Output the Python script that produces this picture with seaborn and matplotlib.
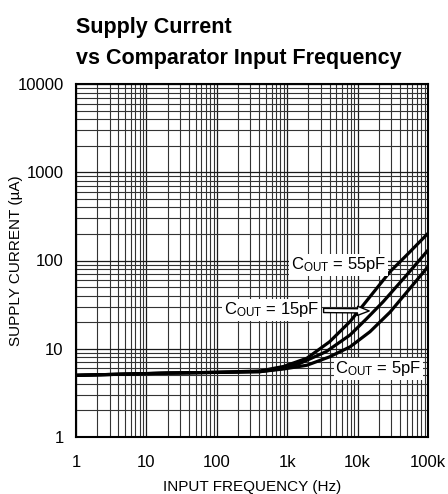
import numpy as np
import pandas as pd
import matplotlib
matplotlib.use("Agg")
import matplotlib.pyplot as plt
import seaborn as sns

# values
freq_55 = [1, 20, 100, 410, 890, 1900, 4000, 7800, 15000, 28900, 49800, 100000]
curr_55 = [5.0, 5.3, 5.4, 5.6, 6.3, 7.8, 12.0, 20.3, 38.9, 74.7, 115, 203]

freq_15 = [1, 20, 100, 410, 890, 1500, 3600, 7800, 13500, 23000, 49800, 100000]
curr_15 = [5.0, 5.3, 5.4, 5.5, 6.0, 6.8, 9.3, 14.3, 22.0, 34.0, 68.5, 131]

freq_5 = [1, 20, 100, 410, 890, 1900, 4000, 7800, 15000, 28900, 55000, 100000]
curr_5 = [5.0, 5.3, 5.4, 5.5, 5.9, 6.5, 8.1, 10.5, 15.6, 26.0, 48.0, 85]

x_ticks = [1, 10, 100, 1000, 10000, 100000]
x_ticklabels = ["1", "10", "100", "1k", "10k", "100k"]
y_ticks = [1, 10, 100, 1000, 10000]
y_ticklabels = ["1", "10", "100", "1000", "10000"]

sns.set_style("white")
plt.rcParams['font.family'] = ['Liberation Sans', 'DejaVu Sans']
plt.rcParams['mathtext.default'] = 'regular'
plt.rcParams['text.color'] = 'black'
plt.rcParams['axes.labelcolor'] = 'black'

df = pd.concat([
    pd.DataFrame({'freq': freq_55, 'current': curr_55, 'cout': '55pF'}),
    pd.DataFrame({'freq': freq_15, 'current': curr_15, 'cout': '15pF'}),
    pd.DataFrame({'freq': freq_5, 'current': curr_5, 'cout': '5pF'}),
])

fig = plt.figure(figsize=(4.48, 4.94), dpi=100)
ax = fig.add_axes([76 / 448, 57 / 494, 352 / 448, 353 / 494])

ax.set_xscale('log')
ax.set_yscale('log')
ax.set_xlim(1, 100000)
ax.set_ylim(1, 10000)

# grid
ax.grid(True, which='major', color='#1a1a1a', linewidth=0.9)
ax.grid(True, which='minor', color='#333333', linewidth=0.8)
ax.set_axisbelow(True)

sns.lineplot(data=df, x='freq', y='current', hue='cout', units='cout',
             estimator=None, palette=['black'] * 3, linewidth=2.3,
             legend=False, ax=ax)

ax.set_xticks(x_ticks)
ax.set_xticklabels(x_ticklabels)
ax.set_yticks(y_ticks)
ax.set_yticklabels(y_ticklabels)
ax.tick_params(which='both', length=0, labelsize=12, colors='black')
ax.tick_params(axis='x', pad=13)
ax.tick_params(axis='y', pad=9)

for s in ax.spines.values():
    s.set_color('black')
    s.set_linewidth(1.5)

ax.set_xlabel('INPUT FREQUENCY (Hz)', fontsize=11)
ax.set_ylabel('SUPPLY CURRENT (µA)', fontsize=11)
ax.xaxis.set_label_coords(0.5, -0.122)
ax.yaxis.set_label_coords(-0.15, 0.5)

box = dict(boxstyle='square,pad=0.1', fc='white', ec='none')
ax.text(5300, 89, r'C$_{OUT}$ = 55pF', fontsize=12, ha='center', va='center', bbox=box)
ax.text(19800, 5.9, r'C$_{OUT}$ = 5pF', fontsize=12, ha='center', va='center', bbox=box)
ax.annotate(r'C$_{OUT}$ = 15pF', xy=(16000, 26.8), xytext=(598, 27.5),
            fontsize=12, ha='center', va='center', bbox=box,
            arrowprops=dict(arrowstyle='simple,head_length=0.7,head_width=0.55,tail_width=0.25',
                            fc='white', ec='black', lw=1.0))

fig.text(76 / 448, 1 - 33 / 494, 'Supply Current', fontsize=15.5, fontweight='bold', va='baseline')
fig.text(76 / 448, 1 - 64 / 494, 'vs Comparator Input Frequency', fontsize=15.5, fontweight='bold', va='baseline')

fig.savefig('out.png', dpi=100)
